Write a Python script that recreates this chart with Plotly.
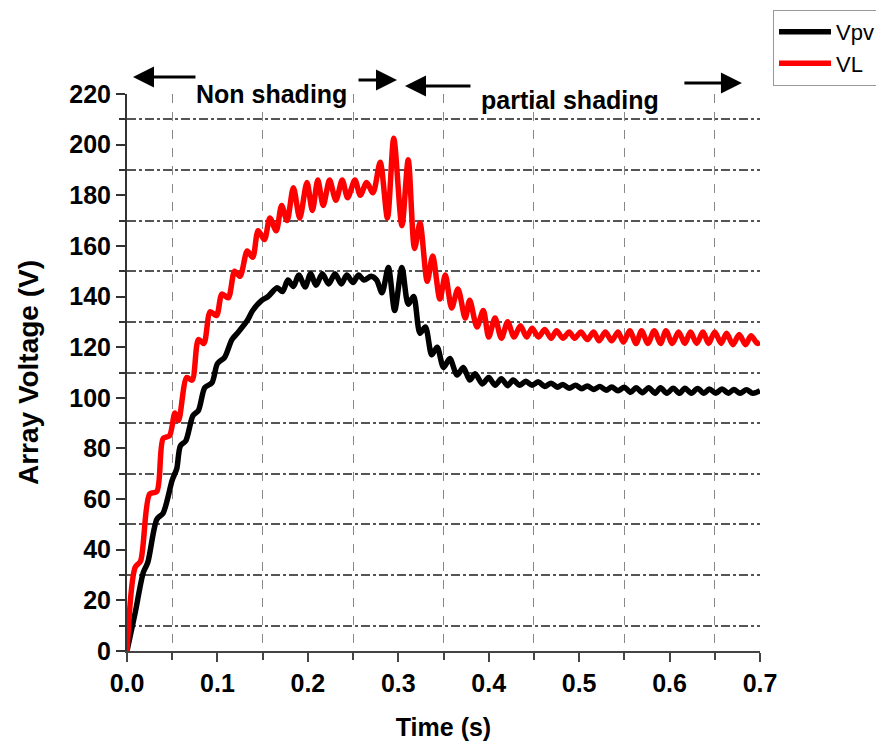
import plotly.graph_objects as go

# ---- data ----
t_vl = [0.000, 0.009, 0.015, 0.025, 0.033, 0.040, 0.047, 0.053, 0.057, 0.066, 0.072, 0.079, 0.085,
        0.092, 0.099, 0.105, 0.112, 0.119, 0.125, 0.133, 0.139, 0.145, 0.152, 0.158, 0.165, 0.171,
        0.177, 0.184, 0.191, 0.199, 0.205, 0.211, 0.217, 0.224, 0.231, 0.238, 0.244, 0.252, 0.258,
        0.265, 0.272, 0.280, 0.288, 0.295, 0.304, 0.311, 0.318, 0.324, 0.332, 0.338, 0.346, 0.352,
        0.359, 0.366, 0.374, 0.379, 0.387, 0.394, 0.400, 0.407, 0.414, 0.421, 0.428, 0.435, 0.442,
        0.448, 0.455, 0.462, 0.469, 0.475, 0.482, 0.489, 0.495, 0.502, 0.509, 0.516, 0.522, 0.529,
        0.536, 0.543, 0.549, 0.556, 0.563, 0.569, 0.576, 0.583, 0.590, 0.596, 0.603, 0.610, 0.617,
        0.623, 0.630, 0.637, 0.643, 0.650, 0.657, 0.663, 0.670, 0.677, 0.684, 0.690, 0.697, 0.700]
v_vl = [0, 33, 35.5, 62, 63, 84, 85, 94, 91, 108, 107, 123, 121.5,
        134, 132.5, 141, 139.5, 150, 148, 158, 155.5, 166, 162.5, 171, 166, 176,
        170, 183, 171, 185, 174, 186, 176, 186, 178, 186, 179, 186, 180,
        185, 181, 193, 171, 202.5, 168, 194, 159, 169, 146, 156, 139, 148.5,
        135.5, 143, 131.5, 138.5, 128, 134.5, 124, 131.5, 123.5, 130, 124, 128.5, 124,
        127.5, 124, 127, 123.5, 126.5, 123.5, 126, 123.5, 126, 123, 126, 122.5, 126,
        122.5, 126, 122, 126.5, 121.5, 126.5, 121.5, 126.5, 121.5, 126.5, 121.5, 126, 121.5,
        126, 121.5, 126, 121.5, 126, 121.5, 125.5, 121, 125, 121, 124.5, 121.5, 122]

t_vpv = [0.000, 0.009, 0.018, 0.023, 0.033, 0.040, 0.050, 0.055, 0.059, 0.065, 0.073, 0.079, 0.086,
         0.094, 0.100, 0.108, 0.116, 0.122, 0.133, 0.139, 0.149, 0.156, 0.166, 0.172, 0.178, 0.184,
         0.190, 0.197, 0.203, 0.209, 0.216, 0.223, 0.230, 0.237, 0.243, 0.250, 0.256, 0.262, 0.270,
         0.276, 0.282, 0.289, 0.296, 0.304, 0.311, 0.317, 0.324, 0.330, 0.337, 0.343, 0.350, 0.357,
         0.365, 0.372, 0.379, 0.385, 0.393, 0.400, 0.407, 0.414, 0.421, 0.427, 0.434, 0.441, 0.448,
         0.455, 0.462, 0.469, 0.476, 0.482, 0.489, 0.496, 0.503, 0.509, 0.516, 0.523, 0.530, 0.536,
         0.543, 0.550, 0.557, 0.563, 0.570, 0.577, 0.584, 0.590, 0.597, 0.604, 0.611, 0.617, 0.624,
         0.631, 0.638, 0.644, 0.651, 0.658, 0.665, 0.671, 0.678, 0.685, 0.692, 0.700]
v_vpv = [0, 15, 31, 35, 52, 54.5, 67.5, 72, 81, 83, 93, 95, 104,
         106, 113.5, 116, 123, 125.5, 130.5, 134.5, 138.5, 140, 143.5, 142, 146.5, 144,
         148.5, 143.8, 149, 144.5, 149, 145, 149, 145, 148.5, 145.5, 148.5, 146.5, 148,
         146.5, 141.5, 151.5, 134.5, 151.5, 137, 140, 125.5, 128, 117, 120, 112, 115.5,
         109, 112, 107, 109.5, 105.5, 108, 105, 107.5, 104.8, 107, 105, 106.5, 105,
         106.3, 104.5, 105.8, 104.2, 105.3, 103.8, 105, 103.6, 104.7, 103.3, 104.5, 103, 104.3,
         102.8, 104.2, 102.2, 104, 102, 104, 101.8, 104, 101.8, 103.8, 101.8, 103.8, 101.8,
         103.7, 101.8, 103.5, 101.8, 103.5, 101.8, 103.3, 101.8, 103.2, 101.8, 102.8]

series_names = ["Vpv", "VL"]
x_ticks = [0.0, 0.1, 0.2, 0.3, 0.4, 0.5, 0.6, 0.7]
x_tick_text = ["0.0", "0.1", "0.2", "0.3", "0.4", "0.5", "0.6", "0.7"]
y_ticks = [0, 20, 40, 60, 80, 100, 120, 140, 160, 180, 200, 220]
region_labels = ["Non shading", "partial shading"]

FONT = "Liberation Sans, Arial, sans-serif"

fig = go.Figure()
fig.add_trace(go.Scatter(x=t_vpv, y=v_vpv, mode="lines", name=series_names[0],
                         line=dict(color="#000000", width=5.5, shape="spline", smoothing=0.8)))
fig.add_trace(go.Scatter(x=t_vl, y=v_vl, mode="lines", name=series_names[1],
                         line=dict(color="#ff0000", width=5.5, shape="spline", smoothing=0.8)))

# region labels (x in data units, y in paper units above the plot)
fig.add_annotation(x=0.160, y=1.029, xref="x", yref="paper", text="<b>" + region_labels[0] + "</b>",
                   showarrow=False, font=dict(family=FONT, size=25, color="black"))
fig.add_annotation(x=0.49, y=1.018, xref="x", yref="paper", text="<b>" + region_labels[1] + "</b>",
                   showarrow=False, font=dict(family=FONT, size=25, color="black"))
# arrows: (head x, head y paper, tail offset px)
arrows = [
    (0.0066, 1.0305, 64),
    (0.2986, 1.0251, -40),
    (0.3074, 1.0144, 67),
    (0.6800, 1.0197, -59),
]
for hx, hy, off in arrows:
    fig.add_annotation(x=hx, y=hy, xref="x", yref="paper", ax=off, ay=0,
                       axref="pixel", ayref="pixel",
                       text="", showarrow=True, arrowhead=2, arrowsize=1.4, arrowwidth=3,
                       arrowcolor="black", standoff=0, startstandoff=0)

# page body has an 8px margin, so the figure is 8px smaller and margins shifted
fig.update_layout(
    width=876, height=740,
    margin=dict(l=119, r=124, t=86, b=97, autoexpand=False),
    paper_bgcolor="white", plot_bgcolor="white",
    font=dict(family=FONT, color="black"),
    showlegend=True,
    legend=dict(x=1.1896, y=1.151, xanchor="right", yanchor="top",
                bgcolor="white", bordercolor="#999999", borderwidth=1,
                font=dict(family=FONT, size=22, color="black"),
                itemwidth=52, tracegroupgap=0),
    xaxis=dict(range=[0, 0.7], tickvals=x_ticks, ticktext=x_tick_text,
               showline=True, linecolor="#444444", linewidth=2,
               ticks="outside", ticklen=9, tickwidth=2, tickcolor="#444444",
               tickfont=dict(family=FONT, size=25, color="black", weight="bold"),
               showgrid=False, zeroline=False, automargin=False,
               minor=dict(dtick=0.1, tick0=0.05, ticks="outside", ticklen=7, tickwidth=2,
                          tickcolor="#444444", showgrid=True, gridcolor="#888888",
                          gridwidth=1, griddash="dash"),
               title=dict(text="<b>Time (s)</b>", font=dict(family=FONT, size=25), standoff=22)),
    yaxis=dict(range=[0, 220], tickvals=y_ticks,
               showline=True, linecolor="#333333", linewidth=2,
               ticks="outside", ticklen=9, tickwidth=2, tickcolor="#333333",
               tickfont=dict(family=FONT, size=25, color="black", weight="bold"),
               showgrid=False, zeroline=False, automargin=False,
               minor=dict(dtick=20, tick0=10, ticks="outside", ticklen=6, tickwidth=2,
                          tickcolor="#333333", showgrid=True, gridcolor="#555555",
                          gridwidth=1.5, griddash="dashdot"),
               title=dict(text="<b>Array Voltage (V)</b>", font=dict(family=FONT, size=28), standoff=22)),
)

fig.write_html("out.html")
